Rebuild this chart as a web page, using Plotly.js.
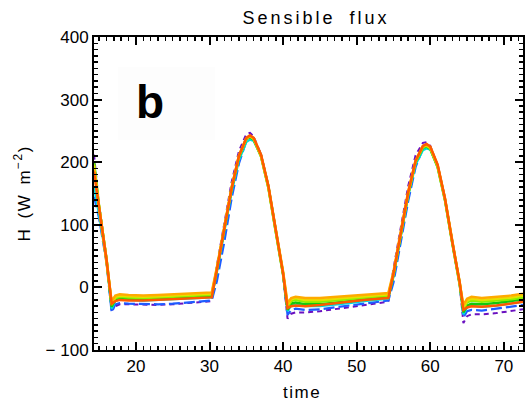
<!DOCTYPE html>
<html>
<head>
<meta charset="utf-8">
<script src="https://cdn.plot.ly/plotly-3.0.1.min.js"></script>
<style>
html,body{margin:0;padding:0;background:#fff;}
#chart{width:528px;height:405px;}
.gtitle{letter-spacing:3px;word-spacing:6px;}
.annotation-text{letter-spacing:1.5px;word-spacing:3px;}
</style>
</head>
<body>
<div id="chart"></div>
<script>
// time axis (hours)
var time = [14.3,15,16,16.7,17.2,17.8,19,21,23,25,27,29,30.3,31,32,33,34,35,35.5,36,37,38,39,40,40.6,41.1,41.7,43,45,47,49,51,53,54.3,55,56,57,58,59,59.5,60,61,62,63,64,64.5,65,65.6,67,69,71,72.6];

var hPurple = [212,132,46,-36,-30,-27,-27,-28,-28,-27,-25,-24,-22,35,102,168,218,245,247,241,212,160,90,20,-50,-42,-40,-40,-38,-35,-31,-28,-25,-23,30,97,162,211,231,232,226,194,140,70,4,-57,-46,-43,-43,-41,-38,-35];
var hBlue   = [145,110,40,-40,-27,-25,-26,-27,-27,-26,-24,-23,-21,10,72,142,198,234,240,238,212,162,92,22,-44,-36,-34,-36,-35,-32,-29,-26,-23,-21,8,70,138,192,222,226,223,195,142,72,6,-48,-38,-36,-37,-34,-31,-28];
var hCyan   = [160,115,42,-34,-22,-19,-20,-21,-20,-19,-18,-17,-16,24,87,152,203,232,236,234,210,162,93,24,-38,-29,-27,-30,-30,-28,-25,-22,-19,-18,17,82,146,196,219,222,220,193,141,73,7,-43,-32,-29,-31,-29,-26,-23];
var hGreen  = [200,128,44,-31,-19,-17,-18,-19,-18,-17,-16,-15,-14,28,92,157,208,237,240,236,209,159,89,20,-36,-26,-24,-27,-27,-25,-22,-19,-17,-15,20,85,149,200,223,225,221,192,139,70,4,-40,-29,-26,-27,-25,-22,-19];
var hLime   = [198,128,45,-28,-17,-15,-16,-17,-16,-15,-14,-13,-12,29,93,158,209,238,241,237,210,160,90,21,-31,-22,-20,-23,-23,-21,-18,-16,-14,-13,21,86,150,201,224,226,222,193,140,71,6,-35,-24,-21,-23,-21,-19,-16];
var hYellow = [195,128,46,-26,-15,-13,-14,-15,-14,-13,-12,-11,-10,30,94,159,210,238,242,238,210,160,91,23,-28,-19,-17,-20,-20,-18,-16,-14,-12,-11,22,86,150,201,225,227,223,194,141,72,8,-32,-21,-18,-20,-18,-16,-13];
var hOrange = [188,126,46,-22,-13,-11,-12,-13,-12,-11,-10,-9,-8,32,96,160,211,238,242,238,211,162,93,25,-25,-17,-15,-17,-17,-15,-13,-11,-10,-9,25,90,153,203,226,228,224,195,142,74,10,-28,-18,-15,-17,-15,-13,-10];
var hRed    = [185,125,45,-26,-22,-20,-21,-21,-20,-19,-18,-17,-16,28,92,158,210,239,243,239,212,162,92,22,-33,-30,-29,-30,-28,-25,-22,-20,-18,-17,22,88,152,202,226,229,225,196,142,72,8,-36,-32,-30,-31,-29,-26,-23];

var yTickVals = [-100,0,100,200,300,400];
var yTickText = ['\u2212 100','0','100','200','300','400'];

var seriesNames = ['purple','blue','cyan','green','lime','yellow','orange','red'];
var seriesData = [hPurple,hBlue,hCyan,hGreen,hLime,hYellow,hOrange,hRed];
var seriesColors = ['#6a10c0','#1e5cff','#00dcdc','#10c810','#8cf000','#e6e000','#ffaa00','#ff5a00'];
var seriesDash = ['5px,4px','11px,4px','solid','solid','solid','solid','solid','solid'];
var seriesWidth = [2,2.2,2.2,2.5,2.5,2.5,2.5,2.5];

var traces = seriesData.map(function(d,i){
  return {x: time, y: d, type:'scatter', mode:'lines', name: seriesNames[i],
    line:{color: seriesColors[i], width: seriesWidth[i], dash: seriesDash[i]}, showlegend:false};
});

var fnt = {family:'Liberation Sans, Arial, sans-serif', size:17, color:'#000'};
var axisCommon = {
  showgrid:false, zeroline:false, showline:true, linecolor:'#000', linewidth:2,
  mirror:'ticks', ticks:'inside', ticklen:8, tickwidth:2, tickcolor:'#000',
  tickfont: fnt
};

var layout = {
  width:528, height:405,
  margin:{l:94, r:5, t:37, b:55},
  paper_bgcolor:'#fff', plot_bgcolor:'#fff',
  font: fnt,
  title:{text:'Sensible flux', font:{family:'Liberation Sans, Arial, sans-serif', size:18, color:'#000'}, x:(316-94)/429, xref:'paper', y:1-18/405, yref:'container', xanchor:'center', yanchor:'middle'},
  xaxis: Object.assign({}, axisCommon, {range:[14.3,72.6], tickmode:'linear', tick0:0, dtick:10, minor:{ticks:'inside', ticklen:4, tickwidth:1.5, tickcolor:'#000', dtick:1, tick0:0}}),
  yaxis: Object.assign({}, axisCommon, {range:[-100,400], tickmode:'array', tickvals:yTickVals, ticktext:yTickText, minor:{ticks:'inside', ticklen:4, tickwidth:1.5, tickcolor:'#000', dtick:10, tick0:0}}),
  shapes:[{type:'rect', xref:'paper', yref:'paper', x0:(118-94)/429, x1:(215-94)/429, y0:(350-140)/313, y1:(350-67)/313, fillcolor:'#fdfdfd', line:{width:0}, layer:'below'}],
  annotations:[
    {text:'<b>b</b>', xref:'paper', yref:'paper', x:(151-94)/429, y:(350-102)/313, showarrow:false, font:{family:'Liberation Sans, Arial, sans-serif', size:46, color:'#000'}, xanchor:'center', yanchor:'middle'},
    {text:'H (W m<sup>−2</sup>)', xref:'paper', yref:'paper', x:(22-94)/429, y:0.5, textangle:-90, showarrow:false, font:fnt, xanchor:'center', yanchor:'middle'},
    {text:'time', xref:'paper', yref:'paper', x:(302-94)/429, y:(350-392)/313, showarrow:false, font:fnt, xanchor:'center', yanchor:'middle'}
  ]
};

Plotly.newPlot('chart', traces, layout, {staticPlot:true, displayModeBar:false});
</script>
</body>
</html>
